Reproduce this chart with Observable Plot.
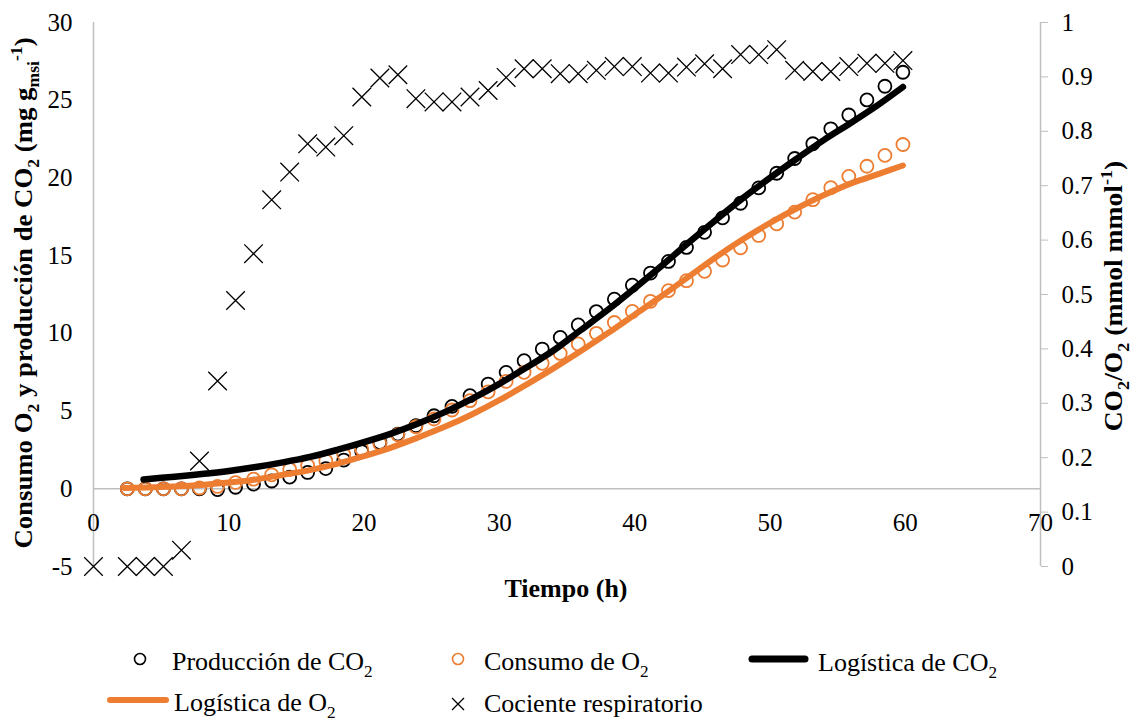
<!DOCTYPE html>
<html><head><meta charset="utf-8">
<script src="https://cdn.jsdelivr.net/npm/d3@7"></script>
<script src="https://cdn.jsdelivr.net/npm/@observablehq/plot@0.6"></script>
<style>
body{margin:0;background:#fff;}
#wrap{position:relative;width:1135px;height:721px;background:#fff;overflow:hidden;}
#chart svg{display:block;}
</style></head><body>
<div id="wrap"><div id="chart"></div><div id="legend"></div></div>
<script>
// ---- data ----
const times = [2.5, 3.83, 5.17, 6.5, 7.83, 9.17, 10.5, 11.83, 13.17, 14.5, 15.83, 17.17, 18.5, 19.83, 21.17, 22.5, 23.83, 25.17, 26.5, 27.83, 29.17, 30.5, 31.83, 33.17, 34.5, 35.83, 37.17, 38.5, 39.83, 41.17, 42.5, 43.83, 45.17, 46.5, 47.83, 49.17, 50.5, 51.83, 53.17, 54.5, 55.83, 57.17, 58.5, 59.83];
const co2Prod = [0.0, 0.0, 0.0, 0.0, 0.0, -0.05, 0.1, 0.3, 0.5, 0.75, 1.05, 1.3, 1.85, 2.4, 2.98, 3.52, 4.06, 4.7, 5.3, 5.99, 6.74, 7.49, 8.24, 8.99, 9.74, 10.54, 11.4, 12.2, 13.1, 13.88, 14.63, 15.53, 16.5, 17.43, 18.37, 19.36, 20.3, 21.25, 22.2, 23.16, 24.05, 25.02, 25.9, 26.8];
const o2Cons = [0.0, 0.0, 0.0, 0.0, 0.05, 0.15, 0.4, 0.62, 0.9, 1.25, 1.5, 1.8, 2.2, 2.55, 2.9, 3.48, 3.99, 4.49, 5.07, 5.67, 6.24, 6.91, 7.49, 8.07, 8.71, 9.32, 10.0, 10.7, 11.41, 12.06, 12.75, 13.39, 13.99, 14.72, 15.5, 16.3, 17.05, 17.8, 18.6, 19.37, 20.1, 20.75, 21.45, 22.15];
const rqTimes = [0, 2.5, 3.83, 5.17, 6.5, 7.83, 9.17, 10.5, 11.83, 13.17, 14.5, 15.83, 17.17, 18.5, 19.83, 21.17, 22.5, 23.83, 25.17, 26.5, 27.83, 29.17, 30.5, 31.83, 33.17, 34.5, 35.83, 37.17, 38.5, 39.83, 41.17, 42.5, 43.83, 45.17, 46.5, 47.83, 49.17, 50.5, 51.83, 53.17, 54.5, 55.83, 57.17, 58.5, 59.83];
const rqValues = [0, 0, 0, 0, 0.03, 0.194, 0.341, 0.489, 0.575, 0.674, 0.725, 0.777, 0.771, 0.792, 0.863, 0.898, 0.904, 0.86, 0.854, 0.854, 0.863, 0.875, 0.899, 0.915, 0.915, 0.906, 0.906, 0.912, 0.919, 0.919, 0.907, 0.907, 0.918, 0.924, 0.915, 0.941, 0.941, 0.95, 0.912, 0.91, 0.91, 0.919, 0.925, 0.925, 0.93];
const logCo2Times = [3.7, 6, 8, 10, 12, 14, 16, 18, 20, 22, 24, 26, 28, 30, 32, 34, 36, 38, 40, 42, 44, 46, 48, 50, 52, 54, 56, 58, 59.83];
const logCo2 = [0.6, 0.78, 0.95, 1.15, 1.4, 1.7, 2.05, 2.5, 3.0, 3.55, 4.2, 4.95, 5.8, 6.75, 7.8, 8.9, 10.2, 11.5, 12.9, 14.35, 15.85, 17.3, 18.7, 20.0, 21.25, 22.45, 23.55, 24.7, 25.85];
const logO2Times = [2.3, 5, 8, 10, 12, 14, 16, 18, 20, 22, 24, 26, 28, 30, 32, 34, 36, 38, 40, 42, 44, 46, 48, 50, 52, 54, 56, 58, 59.83];
const logO2 = [0.05, 0.12, 0.25, 0.4, 0.6, 0.9, 1.2, 1.6, 2.1, 2.65, 3.3, 4.0, 4.8, 5.7, 6.7, 7.75, 8.85, 10.0, 11.2, 12.4, 13.65, 14.9, 16.05, 17.1, 18.05, 18.9, 19.65, 20.25, 20.8];
const xTicks = [0, 10, 20, 30, 40, 50, 60, 70];
const leftTicks = [-5, 0, 5, 10, 15, 20, 25, 30];
const rightTicks = [0, 0.1, 0.2, 0.3, 0.4, 0.5, 0.6, 0.7, 0.8, 0.9, 1];

// ---- tables ----
const co2Data = times.map((t, i) => ({t, v: co2Prod[i]}));
const o2Data = times.map((t, i) => ({t, v: o2Cons[i]}));
const rqData = rqTimes.map((t, i) => ({t, v: rqValues[i]}));
const logCo2Data = logCo2Times.map((t, i) => ({t, v: logCo2[i]}));
const logO2Data = logO2Times.map((t, i) => ({t, v: logO2[i]}));

// secondary axis: right value r maps onto the left scale as 35*r - 5
const toLeft = r => r * 35 - 5;
const ORANGE = "#ED7D31";
const GRID = "#bfbfbf";
const FONT = "Liberation Serif, Times New Roman, serif";
const TICKFONT = 25;

const chart = Plot.plot({
  width: 1135, height: 621,
  marginLeft: 93, marginRight: 95, marginTop: 22, marginBottom: 55,
  x: {domain: [0, 70], axis: null},
  y: {domain: [-5, 30], axis: null},
  style: {fontFamily: FONT, fontSize: TICKFONT + "px", background: "white", overflow: "visible", color: "black"},
  marks: [
    Plot.ruleX([0, 70], {stroke: GRID, strokeWidth: 1.5}),
    Plot.ruleY([0], {stroke: GRID, strokeWidth: 1.5}),
    Plot.axisY({anchor: "left", label: null, ticks: leftTicks, tickSize: 0, tickPadding: 21, fontSize: TICKFONT, tickFormat: d => String(d)}),
    Plot.axisY({anchor: "right", label: null, ticks: rightTicks.map(toLeft), tickSize: 7, tickPadding: 14, stroke: GRID, fill: "black", fontSize: TICKFONT,
      tickFormat: v => String(Math.round((v + 5) / 35 * 10) / 10)}),
    Plot.text(xTicks, {x: d => d, y: () => 0, dy: 34, text: d => String(d), fontSize: TICKFONT}),
    Plot.dot(co2Data, {x: "t", y: "v", r: 6.5, stroke: "black", strokeWidth: 1.8, fill: "none"}),
    Plot.dot(o2Data, {x: "t", y: "v", r: 6.5, stroke: ORANGE, strokeWidth: 1.8, fill: "none"}),
    Plot.line(logCo2Data, {x: "t", y: "v", stroke: "black", strokeWidth: 6.5, curve: "catmull-rom"}),
    Plot.line(logO2Data, {x: "t", y: "v", stroke: ORANGE, strokeWidth: 6, curve: "catmull-rom"}),
    Plot.dot(rqData, {x: "t", y: d => toLeft(d.v), symbol: "times", r: 8.5, stroke: "black", strokeWidth: 1.3})
  ]
});
document.getElementById("chart").appendChild(chart);

// ---- rich text helper (sub/superscripts) ----
function addRich(g, parts, baseSize) {
  let shift = 0;
  parts.forEach(p => {
    const ts = g.append("tspan").text(p.t);
    let target = 0, size = baseSize;
    if (p.sub) { target = baseSize * 0.25; size = baseSize * 0.66; }
    if (p.sup) { target = -baseSize * 0.38; size = baseSize * 0.66; }
    ts.attr("font-size", size).attr("dy", target - shift);
    shift = target;
  });
}

// ---- axis titles ----
const svg = d3.select(chart);
const TF = 26;
const lt = svg.append("text").attr("transform", "translate(32,293) rotate(-90) scale(1.03,1)")
  .attr("text-anchor", "middle").attr("font-weight", "bold").attr("font-family", FONT).attr("font-size", TF);
addRich(lt, [{t: "Consumo O"}, {t: "2", sub: 1}, {t: " y producción de CO"}, {t: "2", sub: 1}, {t: " (mg g"}, {t: "msi", sub: 1}, {t: "-1", sup: 1}, {t: ")"}], TF);
const rt = svg.append("text").attr("transform", "translate(1122,296) rotate(-90) scale(1.06,1)")
  .attr("text-anchor", "middle").attr("font-weight", "bold").attr("font-family", FONT).attr("font-size", TF);
addRich(rt, [{t: "CO"}, {t: "2", sub: 1}, {t: "/O"}, {t: "2", sub: 1}, {t: " (mmol mmol"}, {t: "-1", sup: 1}, {t: ")"}], TF);
svg.append("text").attr("x", 566).attr("y", 597).attr("text-anchor", "middle")
  .attr("font-weight", "bold").attr("font-family", FONT).attr("font-size", TF).text("Tiempo (h)");

// ---- legend (separate SVG below the chart) ----
const LF = 26;
const lg = d3.select("#legend").append("svg").attr("width", 1135).attr("height", 100)
  .style("display", "block").attr("font-family", FONT);
// legend y positions are relative to the legend SVG (top at 621)
lg.append("circle").attr("cx", 140).attr("cy", 38).attr("r", 5.5).attr("fill", "none").attr("stroke", "black").attr("stroke-width", 1.6);
addRich(lg.append("text").attr("x", 172).attr("y", 49).attr("font-size", LF), [{t: "Producción de CO"}, {t: "2", sub: 1}], LF);
lg.append("circle").attr("cx", 458).attr("cy", 38).attr("r", 5.5).attr("fill", "none").attr("stroke", ORANGE).attr("stroke-width", 1.6);
addRich(lg.append("text").attr("x", 484).attr("y", 49).attr("font-size", LF), [{t: "Consumo de O"}, {t: "2", sub: 1}], LF);
lg.append("line").attr("x1", 752).attr("x2", 805).attr("y1", 38).attr("y2", 38).attr("stroke", "black").attr("stroke-width", 7).attr("stroke-linecap", "round");
addRich(lg.append("text").attr("x", 818).attr("y", 50).attr("font-size", LF), [{t: "Logística de CO"}, {t: "2", sub: 1}], LF);
lg.append("line").attr("x1", 110).attr("x2", 166).attr("y1", 79).attr("y2", 79).attr("stroke", ORANGE).attr("stroke-width", 6).attr("stroke-linecap", "round");
addRich(lg.append("text").attr("x", 174).attr("y", 90).attr("font-size", LF), [{t: "Logística de O"}, {t: "2", sub: 1}], LF);
lg.append("path").attr("d", "M452,77L464,89M464,77L452,89").attr("stroke", "black").attr("stroke-width", 1.3);
lg.append("text").attr("x", 484).attr("y", 91).attr("font-size", LF).text("Cociente respiratorio");
</script></body></html>
